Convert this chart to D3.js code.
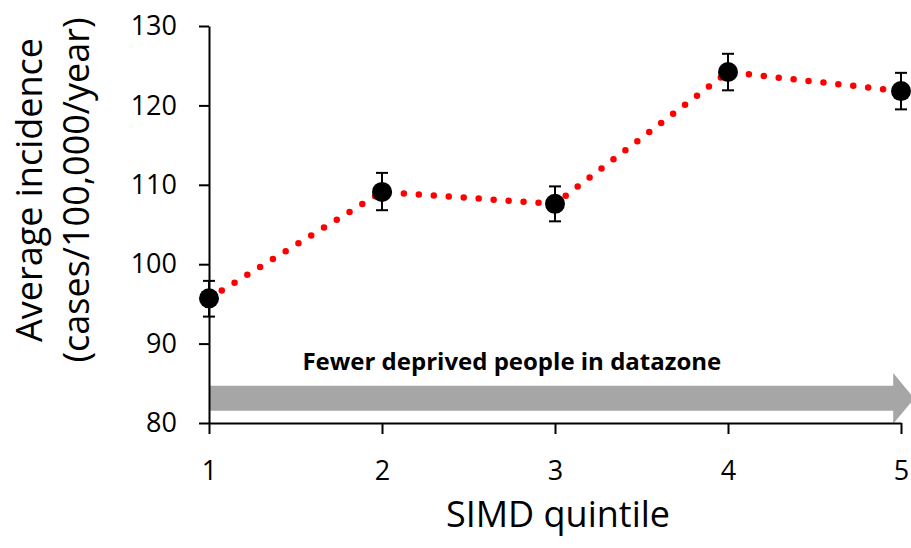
<!DOCTYPE html>
<html>
<head>
<meta charset="utf-8">
<script src="https://cdn.jsdelivr.net/npm/d3@7"></script>
<style>
  html, body { margin: 0; padding: 0; background: #fff; }
  svg { display: block; font-family: "Open Sans", sans-serif; }
  .axis path, .axis line { stroke: #000; stroke-width: 2; }
  .axis text { font-size: 27px; fill: #000; font-family: "Open Sans", sans-serif; }
</style>
</head>
<body>
<div id="plot"></div>
<script>
// Chart data
const quintiles = [1, 2, 3, 4, 5];
const incidence = [95.7, 109.1, 107.6, 124.2, 121.8];
const errLow = [2.3, 2.3, 2.2, 2.3, 2.3];
const errHigh = [2.2, 2.4, 2.2, 2.3, 2.3];
const yTicks = [80, 90, 100, 110, 120, 130];

// arrow annotation (x in quintile units, y in incidence units)
const arrowX = [1, 4.955, 5.077];
const arrowBand = [81.55, 84.7];
const arrowHead = [79.9, 86.3];
const arrowText = "Fewer deprived people in datazone";

const W = 911, H = 548;
const margin = { top: 26, right: 10, bottom: 125, left: 209 };

const svg = d3.select('#plot')
    .append('svg')
    .attr('width', W)
    .attr('height', H);

const x = d3.scaleLinear()
    .domain([1, 5])
    .range([margin.left, W - margin.right]);

const y = d3.scaleLinear()
    .domain([80, 130])
    .range([H - margin.bottom, margin.top]);

// grey arrow
const arrowPts = [
    [arrowX[0], arrowBand[0]],
    [arrowX[1], arrowBand[0]],
    [arrowX[1], arrowHead[0]],
    [arrowX[2], (arrowHead[0] + arrowHead[1]) / 2],
    [arrowX[1], arrowHead[1]],
    [arrowX[1], arrowBand[1]],
    [arrowX[0], arrowBand[1]]
];
svg.append('polygon')
    .attr('points', arrowPts.map(p => [x(p[0]), y(p[1])].join(',')).join(' '))
    .attr('fill', '#a6a6a6');

svg.append('text')
    .attr('x', x(1.54))
    .attr('y', y(86.7))
    .attr('font-family', '"Open Sans", sans-serif')
    .attr('font-weight', 'bold')
    .attr('font-size', 24)
    .attr('fill', '#000')
    .text(arrowText);

// axes
svg.append('g')
    .attr('class', 'axis')
    .attr('transform', `translate(0,${y(80)})`)
    .call(d3.axisBottom(x)
        .tickValues(quintiles)
        .tickFormat(d3.format('d'))
        .tickSize(11)
        .tickSizeOuter(0)
        .tickPadding(27));

svg.append('g')
    .attr('class', 'axis')
    .attr('transform', `translate(${x(1)},0)`)
    .call(d3.axisLeft(y)
        .tickValues(yTicks)
        .tickSize(10)
        .tickSizeOuter(0)
        .tickPadding(22));

// axis titles
svg.append('text')
    .attr('x', (x(1) + x(5)) / 2 + 3)
    .attr('y', 527)
    .attr('text-anchor', 'middle')
    .attr('font-size', 36)
    .attr('fill', '#000')
    .text('SIMD quintile');

const yTitle = svg.append('text')
    .attr('transform', `translate(0,190) rotate(-90)`)
    .attr('text-anchor', 'middle')
    .attr('font-size', 36)
    .attr('fill', '#000');
yTitle.append('tspan').attr('x', 0).attr('y', 42).text('Average incidence');
yTitle.append('tspan').attr('x', 0).attr('y', 89).text('(cases/100,000/year)');

// red dotted line
const pts = quintiles.map((q, i) => ({ q, v: incidence[i], lo: errLow[i], hi: errHigh[i] }));

svg.append('path')
    .datum(pts)
    .attr('fill', 'none')
    .attr('stroke', '#ff0000')
    .attr('stroke-width', 6.5)
    .attr('stroke-linecap', 'round')
    .attr('stroke-dasharray', '0 15')
    .attr('d', d3.line().x(d => x(d.q)).y(d => y(d.v)));

// error bars
const eb = svg.append('g').attr('stroke', '#000').attr('stroke-width', 2);
pts.forEach(d => {
    eb.append('line')
        .attr('x1', x(d.q)).attr('x2', x(d.q))
        .attr('y1', y(d.v - d.lo)).attr('y2', y(d.v + d.hi));
    [d.v - d.lo, d.v + d.hi].forEach(v => {
        eb.append('line')
            .attr('x1', x(d.q) - 6).attr('x2', x(d.q) + 6)
            .attr('y1', y(v)).attr('y2', y(v));
    });
});

// markers
svg.append('g')
    .selectAll('circle')
    .data(pts)
    .join('circle')
    .attr('cx', d => x(d.q))
    .attr('cy', d => y(d.v))
    .attr('r', 10)
    .attr('fill', '#000');
</script>
</body>
</html>
